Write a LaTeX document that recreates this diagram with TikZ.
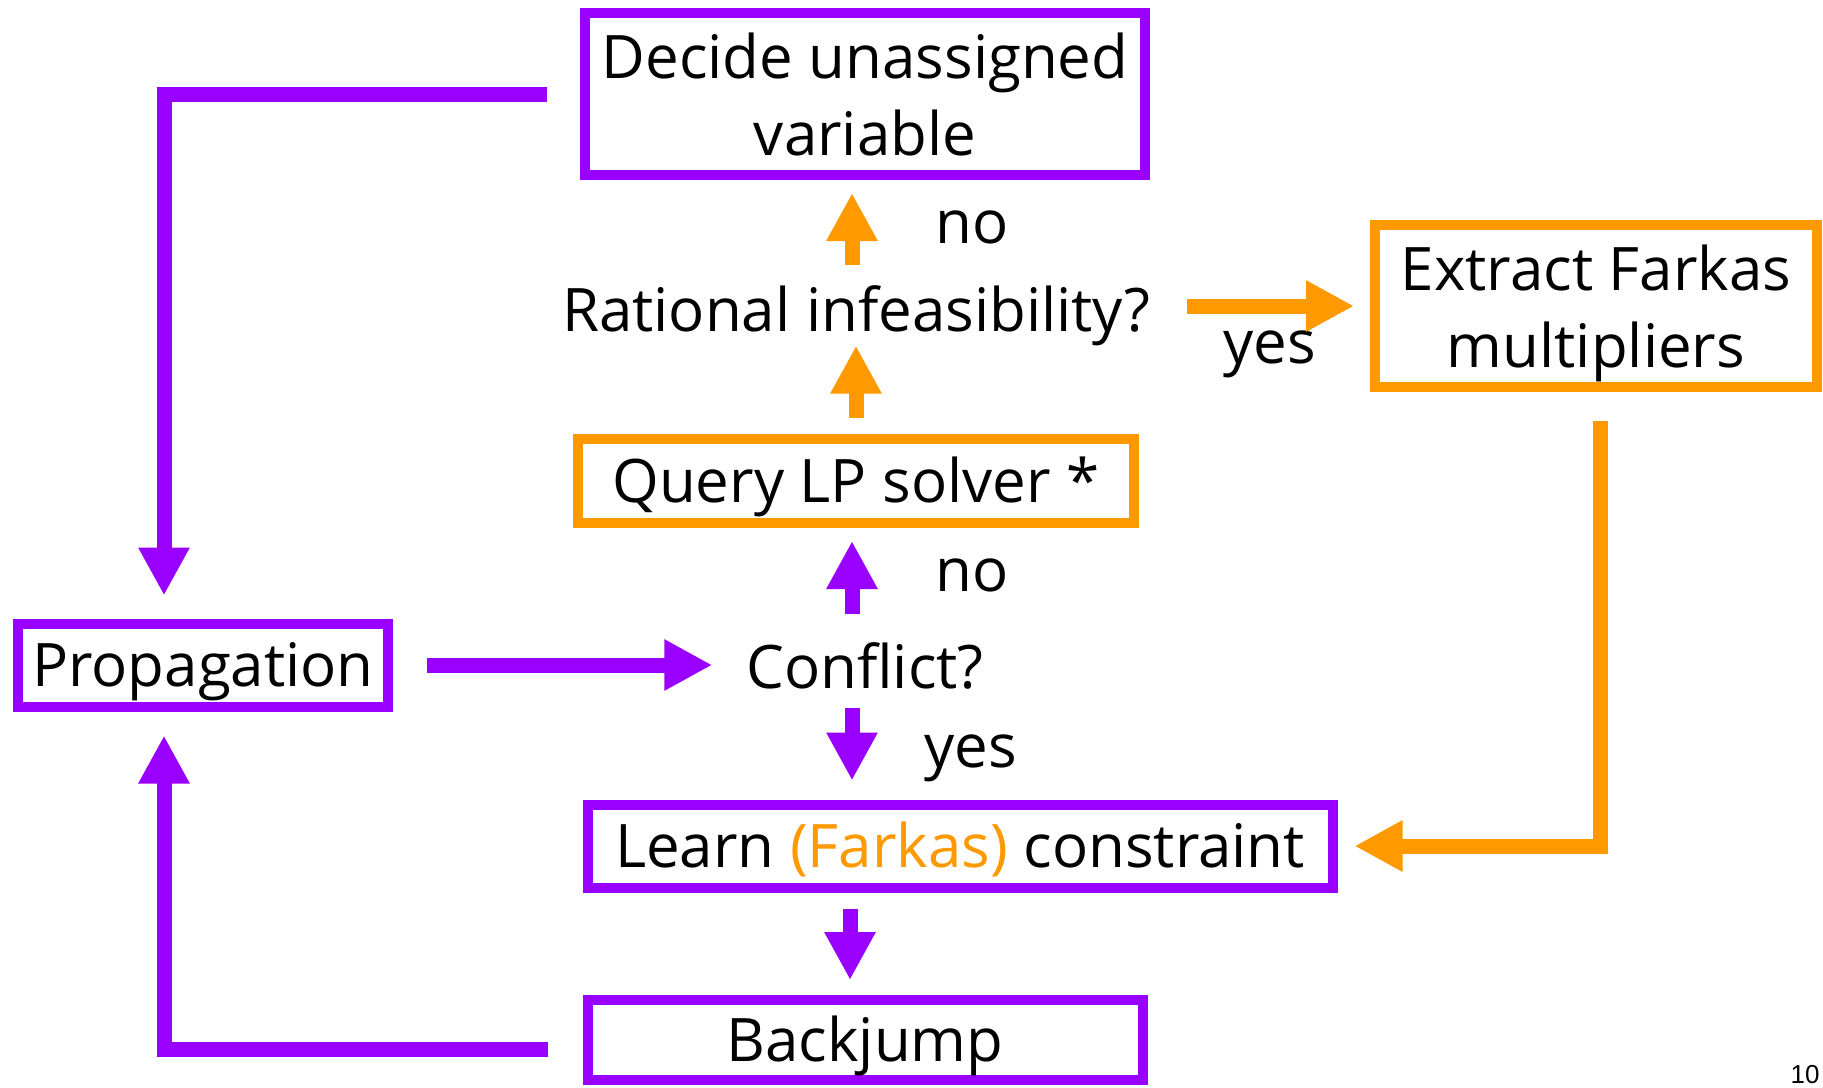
\documentclass[tikz,border=0pt]{standalone}
\usepackage{fontspec}
\setmainfont{Open Sans}
\newfontfamily\pagenofont{Liberation Sans}
\usetikzlibrary{arrows.meta}
\definecolor{purp}{RGB}{153,0,255}
\definecolor{orng}{RGB}{255,153,0}

\begin{document}
\begin{tikzpicture}[x=1pt,y=-1pt,
  bigfont/.style={font=\fontsize{60}{77}\selectfont},
  box/.style={draw, line width=10pt, inner sep=0pt, align=center, bigfont},
  onebox/.style={box, text height=43pt, text depth=0pt},
  pbox/.style={draw=purp},
  obox/.style={draw=orng},
  lbl/.style={inner sep=0pt, anchor=base, bigfont},
  conn/.style={line width=15pt, -{Triangle[length=48pt,width=48pt]}},
  pconn/.style={conn, draw=purp},
  oconn/.style={conn, draw=orng}]

\useasboundingbox (0,0) rectangle (1823,1087);

% boxes
\node[box, pbox, minimum width=560pt, minimum height=162pt] (dec) at (865,94) {Decide unassigned\\variable};
\node[onebox, obox, minimum width=556pt, minimum height=84pt] (qry) at (856,481) {Query LP solver *};
\node[box, obox, text depth=0pt, minimum width=442pt, minimum height=162pt] (ext) at (1596,306) {Extract Farkas\\multipliers};
\node[onebox, pbox, minimum width=370pt, minimum height=83pt] (prop) at (203,665) {Propagation};
\node[onebox, pbox, minimum width=745pt, minimum height=83pt] (lrn) at (960,846) {Learn \textcolor{orng}{(Farkas)} constraint};
\node[onebox, pbox, minimum width=555pt, minimum height=80pt] (bj) at (865,1040) {Backjump};

% questions and branch labels
\node[lbl] (rat) at (856,331) {Rational infeasibility?};
\node[lbl] (conf) at (865,688) {Conflict?};
\node[lbl] (noA) at (972,243) {no};
\node[lbl] (yesA) at (1270,363) {yes};
\node[lbl] (noB) at (972,591) {no};
\node[lbl] (yesB) at (971,767) {yes};
\node[inner sep=0pt, anchor=base, font=\pagenofont\fontsize{26}{30}\selectfont] (pg) at (1805,1083) {10};

% purple loop
\draw[pconn, shorten <=33pt, shorten >=23pt] (dec.west) -| ([xshift=-39pt]prop.north);
\draw[pconn, shorten <=34pt, shorten >=34pt] (prop.east) -- (prop.east -| conf.west);
\draw[pconn, shorten <=28pt, shorten >=13pt] ([xshift=-13pt]conf.north) -- ([xshift=-13pt]conf.north |- qry.south);
\draw[pconn, shorten <=19pt, shorten >=19pt] ([xshift=-13pt]conf.south) -- ([xshift=-13pt]conf.south |- lrn.north);
\draw[pconn, shorten <=16pt, shorten >=15pt] ([xshift=-15pt]bj.north |- lrn.south) -- ([xshift=-15pt]bj.north);
\draw[pconn, shorten <=35pt, shorten >=24pt] ([yshift=-9pt]bj.west) -| ([xshift=-39pt]prop.south);

% orange LP branch
\draw[oconn, shorten <=16pt, shorten >=0pt] (qry.north) -- (qry.north |- rat.south);
\draw[oconn, shorten <=20pt, shorten >=13pt] ([xshift=-4pt]rat.north) -- ([xshift=-4pt]rat.north |- dec.south);
\draw[oconn, shorten <=37pt, shorten >=16pt] (rat.east |- ext.west) -- (ext.west);
\draw[oconn, shorten <=29pt, shorten >=17pt] ([xshift=4pt]ext.south) |- (lrn.east);
\end{tikzpicture}
\end{document}
